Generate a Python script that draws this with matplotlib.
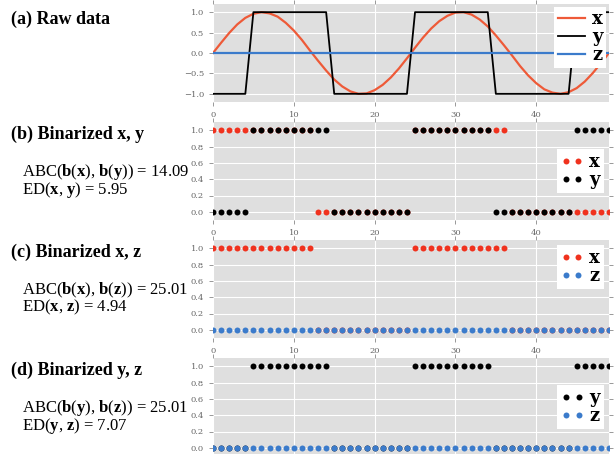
import matplotlib
matplotlib.use('Agg')
import matplotlib.pyplot as plt

# time steps
t = list(range(50))

# raw series
x_raw = [0.00, 0.25, 0.49, 0.70, 0.86, 0.96, 1.00, 0.97, 0.89, 0.74,
         0.55, 0.32, 0.06, -0.19, -0.43, -0.65, -0.82, -0.94, -1.00, -0.99,
         -0.91, -0.78, -0.60, -0.38, -0.13, 0.13, 0.38, 0.60, 0.78, 0.91,
         0.99, 1.00, 0.94, 0.82, 0.65, 0.43, 0.19, -0.06, -0.32, -0.55,
         -0.74, -0.89, -0.97, -1.00, -0.96, -0.86, -0.70, -0.49, -0.25, 0.00]
y_raw = [-1, -1, -1, -1, -1, 1, 1, 1, 1, 1,
         1, 1, 1, 1, 1, -1, -1, -1, -1, -1,
         -1, -1, -1, -1, -1, 1, 1, 1, 1, 1,
         1, 1, 1, 1, 1, -1, -1, -1, -1, -1,
         -1, -1, -1, -1, -1, 1, 1, 1, 1, 1]
z_raw = [0] * 50

# binarized series (b)-(d)
bx = [1, 1, 1, 1, 1, 1, 1, 1, 1, 1,
      1, 1, 1, 0, 0, 0, 0, 0, 0, 0,
      0, 0, 0, 0, 0, 1, 1, 1, 1, 1,
      1, 1, 1, 1, 1, 1, 1, 0, 0, 0,
      0, 0, 0, 0, 0, 0, 0, 0, 0, 0]
by = [0, 0, 0, 0, 0, 1, 1, 1, 1, 1,
      1, 1, 1, 1, 1, 0, 0, 0, 0, 0,
      0, 0, 0, 0, 0, 1, 1, 1, 1, 1,
      1, 1, 1, 1, 1, 0, 0, 0, 0, 0,
      0, 0, 0, 0, 0, 1, 1, 1, 1, 1]
bz = [0] * 50

titles = ['(a) Raw data', '(b) Binarized x, y', '(c) Binarized x, z', '(d) Binarized y, z']
abc_lines = [None,
             r'ABC($\mathbf{b}$($\mathbf{x}$), $\mathbf{b}$($\mathbf{y}$)) = 14.09',
             r'ABC($\mathbf{b}$($\mathbf{x}$), $\mathbf{b}$($\mathbf{z}$)) = 25.01',
             r'ABC($\mathbf{b}$($\mathbf{y}$), $\mathbf{b}$($\mathbf{z}$)) = 25.01']
ed_lines = [None,
            r'ED($\mathbf{x}$, $\mathbf{y}$) = 5.95',
            r'ED($\mathbf{x}$, $\mathbf{z}$) = 4.94',
            r'ED($\mathbf{y}$, $\mathbf{z}$) = 7.07']

RED_LINE = '#EE5A38'
RED_DOT = '#F0321E'
BLUE = '#3B7BCB'
BG = '#DFDFDF'

plt.rcParams['mathtext.fontset'] = 'custom'
plt.rcParams['mathtext.rm'] = 'Liberation Serif'
plt.rcParams['mathtext.bf'] = 'Liberation Serif:bold'

W, H = 615, 454
fig = plt.figure(figsize=(W / 100, H / 100), dpi=100)

ax_left = 213
ax_right = 609
ax_h = 98
tops = [4, 122, 240, 358]

legend_font = {'family': 'DejaVu Serif', 'weight': 'bold', 'size': 13}


def style_axes(ax):
    ax.set_facecolor(BG)
    for s in ax.spines.values():
        s.set_visible(False)
    ax.grid(True, color='white', linewidth=0.8)
    ax.set_axisbelow(True)
    ax.tick_params(direction='out', length=3, width=0.6, colors='#888888',
                   labelcolor='#666666', labelsize=6, top=True, right=True)
    for lab in ax.get_xticklabels() + ax.get_yticklabels():
        lab.set_family('DejaVu Serif')
    ax.set_xlim(0, 49)
    ax.set_xticks([0, 10, 20, 30, 40])


axes = []
for top in tops:
    ax = fig.add_axes([ax_left / W, 1 - (top + ax_h) / H,
                       (ax_right - ax_left) / W, ax_h / H])
    axes.append(ax)

# (a) raw data
ax = axes[0]
ax.plot(t, x_raw, color=RED_LINE, lw=1.6, label='x')
ax.plot(t, y_raw, color='black', lw=1.3, label='y')
ax.plot(t, z_raw, color=BLUE, lw=1.6, label='z')
ax.set_ylim(-1.2, 1.2)
ax.set_yticks([-1.0, -0.5, 0.0, 0.5, 1.0])
style_axes(ax)
leg = ax.legend(loc='upper right', prop=legend_font, handlelength=1.5,
                handletextpad=0.4, labelspacing=0.0, borderpad=0.2,
                borderaxespad=0.15, framealpha=1, fancybox=False)
leg.get_frame().set_facecolor('white')
leg.get_frame().set_edgecolor('none')

# binarized panels
pairs = [(bx, RED_DOT, 'x', by, 'black', 'y', 'center right'),
         (bx, RED_DOT, 'x', bz, BLUE, 'z', 'upper right'),
         (by, 'black', 'y', bz, BLUE, 'z', 'center right')]
for ax, (s1, c1, l1, s2, c2, l2, loc) in zip(axes[1:], pairs):
    ax.plot(t, s1, 'o', color=c1, ms=4.3, mec='none', label=l1)
    ax.plot(t, s2, 'o', color=c2, ms=4.3, mec='none', label=l2)
    ax.set_ylim(-0.1, 1.1)
    ax.set_yticks([0.0, 0.2, 0.4, 0.6, 0.8, 1.0])
    style_axes(ax)
    leg = ax.legend(loc=loc, prop=legend_font, numpoints=2, handlelength=1.3,
                    handletextpad=0.3, labelspacing=0.0, borderpad=0.2,
                    borderaxespad=0.3, framealpha=1, fancybox=False)
    leg.get_frame().set_facecolor('white')
    leg.get_frame().set_edgecolor('none')

# bottom panel runs off the lower edge of the figure
axes[3].tick_params(labelbottom=False, bottom=False)

# left-hand annotations
for i, top in enumerate(tops):
    title_y = top + 15 if i == 0 else top + 12
    fig.text(11 / W, 1 - title_y / H, titles[i], family='Liberation Serif',
             weight='bold', fontsize=13, va='center', ha='left')
    if abc_lines[i] is not None:
        fig.text(22 / W, 1 - (top + 59) / H, abc_lines[i] + '\n' + ed_lines[i],
                 family='Liberation Serif', fontsize=12, va='center', ha='left',
                 linespacing=0.8)

fig.savefig('out.png', dpi=100, facecolor='white')
